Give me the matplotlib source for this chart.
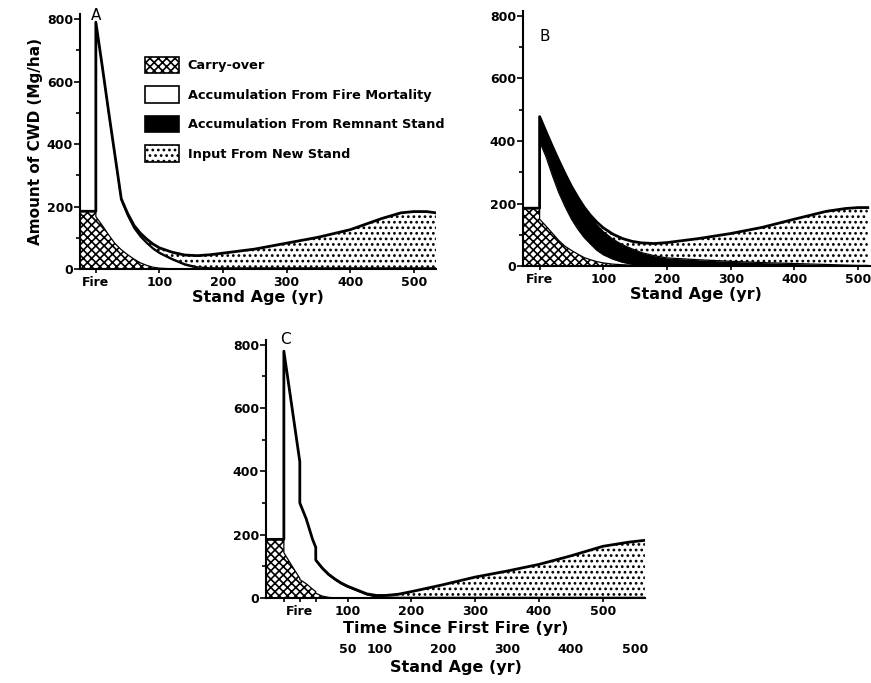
import matplotlib.pyplot as plt
from matplotlib.patches import Patch
import numpy as np

plt.rcParams['font.family'] = 'DejaVu Sans'
plt.rcParams['font.weight'] = 'bold'
plt.rcParams['axes.labelweight'] = 'bold'
plt.rcParams['hatch.linewidth'] = 1.2

# Panel A: years since fire (0 listed twice: just before / just after the fire)
age_a = [-25, 0, 0, 10, 20, 30, 40, 50, 60, 70, 80, 90, 100, 120, 140, 160, 180,
         200, 250, 300, 350, 400, 450, 480, 500, 520, 535]
carry_a = [185, 185, 168, 140, 110, 82, 62, 46, 32, 20, 12, 6, 3, 1, 0, 0, 0,
           0, 0, 0, 0, 0, 0, 0, 0, 0, 0]
fire_a = [0, 0, 622, 507, 391, 279, 157, 124, 98, 83, 70, 58, 47, 29, 13, 3, 0,
          0, 0, 0, 0, 0, 0, 0, 0, 0, 0]
remnant_a = [0, 0, 0, 3, 4, 4, 4, 4, 4, 4, 4, 4, 4, 4, 4, 4, 4,
             4, 4, 4, 4, 4, 4, 4, 4, 4, 4]
new_a = [0, 0, 0, 0, 0, 0, 2, 4, 6, 8, 10, 12, 14, 20, 28, 36, 42,
         47, 60, 79, 98, 122, 158, 176, 180, 180, 176]

# Panel B
age_b = [-26, 0, 0, 10, 20, 30, 40, 50, 60, 70, 80, 90, 100, 115, 130, 145, 160,
         180, 200, 250, 300, 350, 400, 450, 480, 500, 515]
carry_b = [185, 185, 150, 128, 105, 82, 63, 50, 38, 27, 20, 14, 10, 6, 4, 3, 2,
           1, 0, 0, 0, 0, 0, 0, 0, 0, 0]
fire_b = [0, 0, 248, 222, 185, 153, 127, 100, 80, 64, 50, 36, 26, 16, 8, 3, 1,
          0, 0, 0, 0, 0, 0, 0, 0, 0, 0]
remnant_b = [0, 0, 80, 80, 93, 103, 105, 105, 102, 94, 86, 81, 74, 64, 56, 49, 40,
             32, 26, 20, 15, 11, 8, 5, 3, 2, 2]
new_b = [0, 0, 0, 0, 0, 0, 0, 0, 0, 3, 6, 9, 12, 16, 20, 24, 31,
         39, 49, 68, 89, 113, 142, 170, 181, 185, 185]

# Panel C: time since first fire, re-burns at 25 and 50 yr
time_c = [-28, 0, 0, 10, 20, 25, 25, 35, 45, 50, 50, 60, 70, 80, 90, 100, 115,
          130, 145, 160, 180, 200, 250, 300, 350, 400, 450, 500, 540, 566]
carry_c = [185, 185, 143, 110, 78, 62, 58, 45, 28, 20, 15, 6, 2, 0, 0, 0, 0,
           0, 0, 0, 0, 0, 0, 0, 0, 0, 0, 0, 0, 0]
fire_c = [0, 0, 636, 530, 422, 368, 242, 205, 157, 140, 102, 86, 70, 57, 44, 34, 22,
          10, 3, 0, 0, 0, 0, 0, 0, 0, 0, 0, 0, 0]
remnant_c = [0, 0, 0, 0, 0, 0, 0, 0, 0, 0, 3, 3, 3, 3, 3, 3, 3,
             3, 3, 3, 2, 2, 2, 2, 2, 2, 2, 2, 2, 2]
new_c = [0, 0, 0, 0, 0, 0, 0, 0, 0, 0, 0, 0, 0, 0, 0, 0, 0,
         0, 2, 5, 10, 18, 40, 64, 83, 104, 131, 161, 174, 180]
fire_times_c = [0, 25, 50]
stand_age_ticks = [50, 100, 200, 300, 400, 500]

yticks = [0, 200, 400, 600, 800]
xticks = [0, 100, 200, 300, 400, 500]
xticklabels = ['Fire', '100', '200', '300', '400', '500']

legend_names = ['Carry-over', 'Accumulation From Fire Mortality',
                'Accumulation From Remnant Stand', 'Input From New Stand']

carry_style = dict(facecolor='white', edgecolor='black', hatch='xxxx', linewidth=0)
fire_style = dict(facecolor='white', edgecolor='black', linewidth=0)
remnant_style = dict(facecolor='black', edgecolor='black', linewidth=0)
new_style = dict(facecolor='white', edgecolor='black', hatch='...', linewidth=0)


def draw_panel(ax, x, carry, fire, remnant, new, xlim):
    x = np.array(x, dtype=float)
    c1 = np.array(carry, dtype=float)
    c2 = c1 + np.array(fire)
    c3 = c2 + np.array(remnant)
    c4 = c3 + np.array(new)
    ax.fill_between(x, 0, c1, **carry_style)
    ax.fill_between(x, c1, c2, **fire_style)
    ax.fill_between(x, c2, c3, **remnant_style)
    ax.fill_between(x, c3, c4, **new_style)
    ax.plot(x, c1, color='black', lw=0.9)
    ax.plot(x, c2, color='black', lw=0.9)
    ax.plot(x, c3, color='black', lw=0.9)
    ax.plot(x, c4, color='black', lw=2.0)

    ax.set_xlim(*xlim)
    ax.set_ylim(0, 815)
    ax.spines['top'].set_visible(False)
    ax.spines['right'].set_visible(False)
    ax.spines['left'].set_linewidth(1.5)
    ax.spines['bottom'].set_linewidth(1.5)
    ax.set_yticks(yticks)
    ax.set_yticks([100, 300, 500, 700], minor=True)
    ax.tick_params(axis='y', which='major', length=4, width=1.2, labelsize=9, pad=1)
    ax.tick_params(axis='y', which='minor', length=3, width=1.2)
    ax.tick_params(axis='x', which='major', length=3, width=1.2, labelsize=9, pad=2)


fig = plt.figure(figsize=(8.71, 6.83), dpi=100)

axA = fig.add_axes([0.0918, 0.606, 0.4087, 0.373])
draw_panel(axA, age_a, carry_a, fire_a, remnant_a, new_a, (-25, 535))
axA.set_xticks(xticks)
axA.set_xticklabels(xticklabels)
axA.set_xlabel('Stand Age (yr)', fontsize=11.5, labelpad=1)
axA.set_ylabel('Amount of CWD (Mg/ha)', fontsize=11, labelpad=3)
axA.text(0, 812, 'A', ha='center', va='center', fontsize=11, fontweight='normal',
         clip_on=False)

axB = fig.add_axes([0.6005, 0.6105, 0.398, 0.373])
draw_panel(axB, age_b, carry_b, fire_b, remnant_b, new_b, (-26, 518))
axB.set_xticks(xticks)
axB.set_xticklabels(xticklabels)
axB.set_xlabel('Stand Age (yr)', fontsize=11.5, labelpad=1)
axB.text(8, 735, 'B', ha='center', va='center', fontsize=11, fontweight='normal')

axC = fig.add_axes([0.3054, 0.1245, 0.435, 0.378])
draw_panel(axC, time_c, carry_c, fire_c, remnant_c, new_c, (-28, 566))
axC.set_xticks(fire_times_c + xticks[1:])
axC.set_xticklabels(['', 'Fire', ''] + xticklabels[1:])
axC.set_xlabel('Time Since First Fire (yr)', fontsize=11.5, labelpad=2)
axC.text(2, 815, 'C', ha='center', va='center', fontsize=11, fontweight='normal',
         clip_on=False)
secC = axC.secondary_xaxis(-0.17, functions=(lambda t: t - 50, lambda a: a + 50))
secC.set_xticks(stand_age_ticks)
secC.spines['bottom'].set_visible(False)
secC.tick_params(axis='x', length=0, labelsize=9, pad=1)
secC.set_xlabel('Stand Age (yr)', fontsize=11.5, labelpad=3)

handles = [Patch(**{**carry_style, 'linewidth': 1.2}),
           Patch(**{**fire_style, 'linewidth': 1.2}),
           Patch(**{**remnant_style, 'linewidth': 1.2}),
           Patch(**{**new_style, 'linewidth': 1.2})]
fig.legend(handles, legend_names, loc='upper left', bbox_to_anchor=(0.1665, 0.917),
           frameon=False, fontsize=9.3, handlelength=2.6, handleheight=1.6,
           handletextpad=0.7, labelspacing=1.0, borderpad=0, borderaxespad=0)

fig.savefig('out.png', dpi=100)
